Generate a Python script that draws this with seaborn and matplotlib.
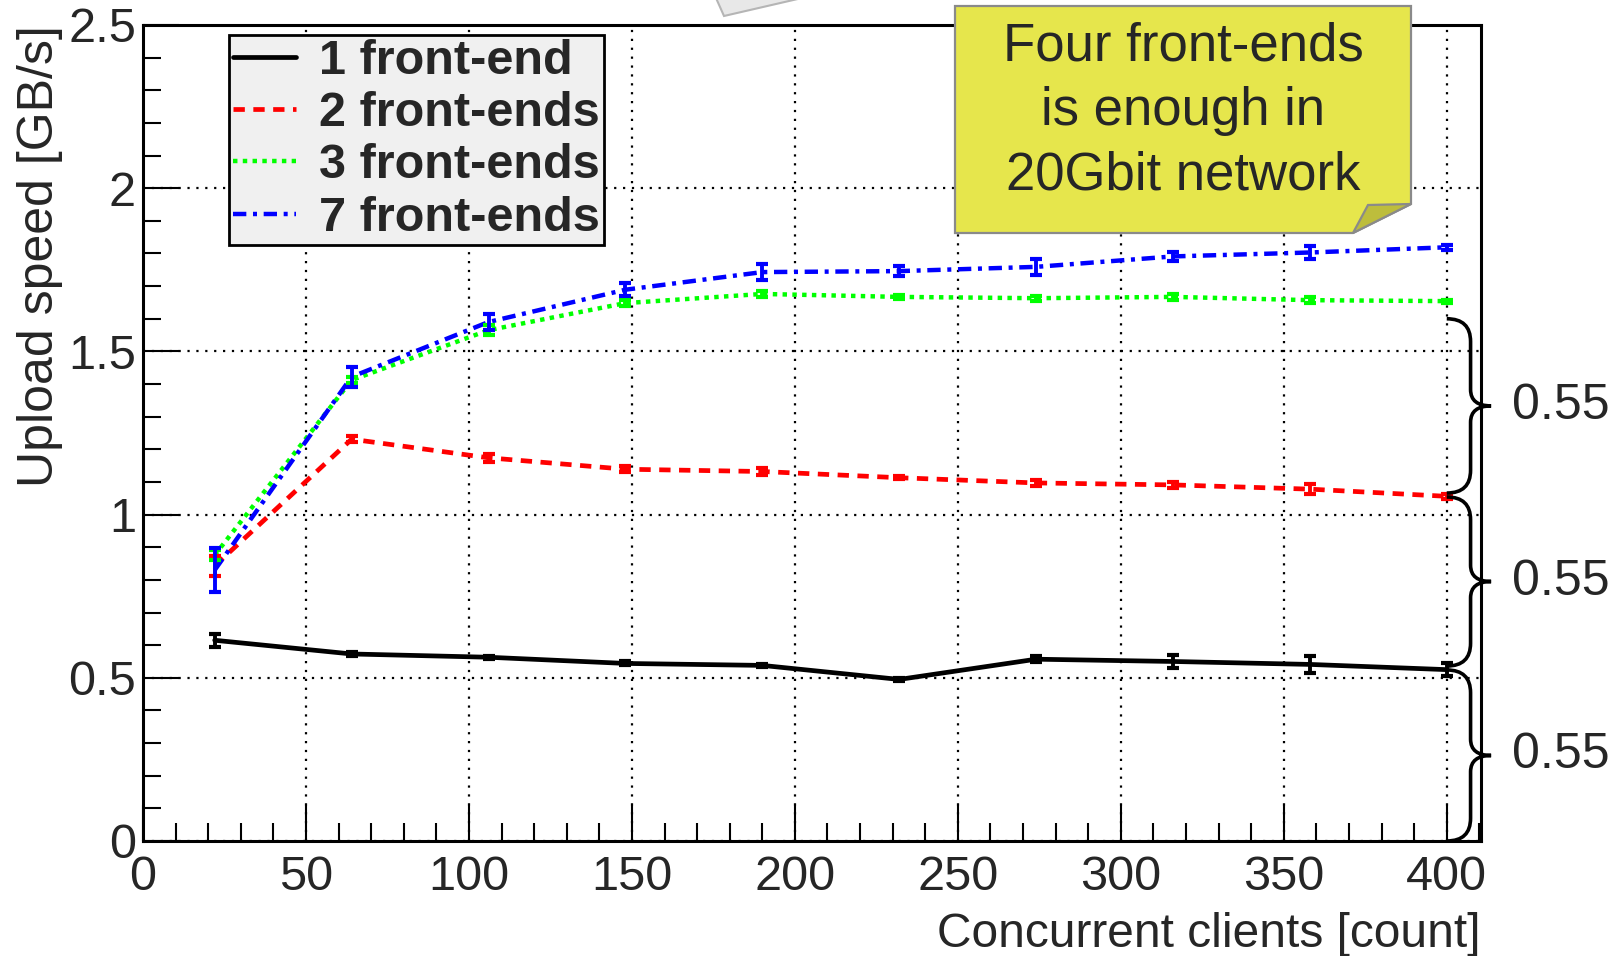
import numpy as np
import pandas as pd
import matplotlib
matplotlib.use("Agg")
import matplotlib.pyplot as plt
import seaborn as sns
from matplotlib.path import Path
from matplotlib.patches import PathPatch, Polygon
from matplotlib.lines import Line2D
from matplotlib.ticker import MultipleLocator, FuncFormatter

# ---- data -------------------------------------------------------------
clients = [22, 64, 106, 148, 190, 232, 274, 316, 358, 400]
series_names = ["1 front-end", "2 front-ends", "3 front-ends", "7 front-ends"]

speed_1fe = [0.615, 0.573, 0.563, 0.544, 0.538, 0.495, 0.557, 0.550, 0.541, 0.525]
err_1fe = [0.020, 0.005, 0.005, 0.006, 0.005, 0.005, 0.010, 0.020, 0.025, 0.020]
speed_2fe = [0.843, 1.231, 1.174, 1.139, 1.132, 1.113, 1.097, 1.091, 1.078, 1.056]
err_2fe = [0.030, 0.010, 0.012, 0.010, 0.012, 0.005, 0.008, 0.010, 0.015, 0.008]
speed_3fe = [0.876, 1.412, 1.565, 1.648, 1.676, 1.667, 1.663, 1.667, 1.657, 1.654]
err_3fe = [0.015, 0.010, 0.015, 0.010, 0.010, 0.005, 0.008, 0.010, 0.010, 0.005]
speed_7fe = [0.830, 1.422, 1.590, 1.689, 1.743, 1.746, 1.759, 1.791, 1.803, 1.819]
err_7fe = [0.067, 0.030, 0.025, 0.020, 0.025, 0.015, 0.025, 0.015, 0.020, 0.008]

brace_levels = [1.60, 1.06, 0.53, 0.0]
brace_labels = ["0.55", "0.55", "0.55"]
callout_text = "Four front-ends\nis enough in\n20Gbit network"

x_label = "Concurrent clients [count]"
y_label = "Upload speed [GB/s]"

# ---- style ------------------------------------------------------------
sns.set_style("ticks")
plt.rcParams["font.family"] = ["Liberation Sans", "DejaVu Sans"]

colors = ["#000000", "#ff0000", "#00ff00", "#0000ff"]
palette = dict(zip(series_names, colors))
dash_styles = {
    "1 front-end": "",
    "2 front-ends": (2.4, 1.8),
    "3 front-ends": (1.0, 1.2),
    "7 front-ends": (3.0, 1.5, 0.9, 1.5),
}
line_widths = [3.4, 3.4, 3.2, 3.2]

speeds = [speed_1fe, speed_2fe, speed_3fe, speed_7fe]
errors = [err_1fe, err_2fe, err_3fe, err_7fe]

df = pd.DataFrame({
    "clients": np.tile(clients, len(series_names)),
    "speed": np.concatenate(speeds),
    "series": np.repeat(series_names, len(clients)),
})

W, H = 1624, 956
fig = plt.figure(figsize=(W / 100, H / 100), dpi=100)
ax = fig.add_axes([143 / W, 1 - 841 / H, (1481 - 143) / W, (841 - 25) / H])

# grid underneath everything
ax.set_axisbelow(True)
ax.grid(True, which="major", color="black", linestyle=(0, (1, 3)), linewidth=1.6)

sns.lineplot(data=df, x="clients", y="speed", hue="series", style="series",
             palette=palette, dashes=dash_styles, linewidth=3.2, ax=ax,
             legend=False, sort=False, errorbar=None)
for ln, lw in zip(ax.get_lines(), line_widths):
    ln.set_dash_capstyle("butt")
    ln.set_linewidth(lw)

for s, e, c in zip(speeds, errors, colors):
    ax.errorbar(clients, s, yerr=e, fmt="none", ecolor=c, elinewidth=2.8,
                capsize=4.5, capthick=3.0, zorder=3)

ax.set_xlim(0, 410.5)
ax.set_ylim(0, 2.5)
ax.xaxis.set_major_locator(MultipleLocator(50))
ax.xaxis.set_minor_locator(MultipleLocator(10))
ax.yaxis.set_major_locator(MultipleLocator(0.5))
ax.yaxis.set_minor_locator(MultipleLocator(0.1))
fmt = FuncFormatter(lambda v, p: f"{v:g}")
ax.xaxis.set_major_formatter(fmt)
ax.yaxis.set_major_formatter(fmt)
ax.tick_params(which="major", direction="in", length=26, width=1.5,
               labelsize=35, color="black")
ax.tick_params(which="minor", direction="in", length=13, width=1.5, color="black")
ax.tick_params(axis="x", which="major", pad=10)
ax.tick_params(axis="y", which="major", pad=5)
for sp in ax.spines.values():
    sp.set_linewidth(2.2)
    sp.set_color("black")

ax.set_xlabel(x_label, loc="right", fontsize=34.5, labelpad=9)
ax.set_ylabel(y_label, loc="top", fontsize=36, labelpad=4)

# ---- legend -----------------------------------------------------------
handles = [Line2D([], [], color=c, linewidth=lw,
                  linestyle=("-" if i == 0 else (0, dash_styles[n])),
                  dash_capstyle="butt")
           for i, (n, c, lw) in enumerate(zip(series_names, colors, line_widths))]
leg = fig.legend(handles, series_names, loc="upper left",
                 bbox_to_anchor=(229 / W, 1 - 35 / H), bbox_transform=fig.transFigure,
                 prop={"weight": "bold", "size": 35}, frameon=True, fancybox=False,
                 handlelength=1.3, handletextpad=0.47, labelspacing=0.15,
                 borderpad=0.08, borderaxespad=0)
leg.get_frame().set_facecolor("#f0f0f0")
leg.get_frame().set_edgecolor("black")
leg.get_frame().set_linewidth(2.0)
leg.get_frame().set_alpha(1.0)


# ---- braces on the right ---------------------------------------------
def curly_brace(ax, y_top, y_bot, x0=400.0, xb=407.3, xt=413.6, r=0.07, r2=0.05):
    ym = 0.5 * (y_top + y_bot)
    verts = [
        (x0, y_top), (xb, y_top), (xb, y_top - r),
        (xb, ym + r2), (xb, ym), (xt, ym),
        (xb, ym), (xb, ym - r2),
        (xb, y_bot + r), (xb, y_bot), (x0, y_bot),
    ]
    codes = [Path.MOVETO, Path.CURVE3, Path.CURVE3,
             Path.LINETO, Path.CURVE3, Path.CURVE3,
             Path.CURVE3, Path.CURVE3,
             Path.LINETO, Path.CURVE3, Path.CURVE3]
    patch = PathPatch(Path(verts, codes), facecolor="none", edgecolor="black",
                      linewidth=2.6, clip_on=False, zorder=5)
    ax.add_patch(patch)
    return ym


for i, lab in enumerate(brace_labels):
    top = brace_levels[i] - (0.0 if i == 0 else 0.006)
    bot = brace_levels[i + 1] + (0.0 if i == len(brace_labels) - 1 else 0.006)
    ym = curly_brace(ax, top, bot)
    ax.text(420.0, ym, lab, fontsize=36, ha="left", va="center", clip_on=False)


# ---- callout note ------------------------------------------------------
def px(x, y):
    return (x / W, 1 - y / H)


note = Polygon([px(955, 6), px(1411, 6), px(1411, 204), px(1353, 233), px(955, 233)],
               closed=True, transform=fig.transFigure, facecolor="#e6e64c",
               edgecolor="#8a8a8a", linewidth=1.6, zorder=10)
fig.add_artist(note)
fold = Polygon([px(1353, 233), px(1368, 205), px(1411, 204)], closed=True,
               transform=fig.transFigure, facecolor="#bdbd3c",
               edgecolor="#8a8a8a", linewidth=1.6, zorder=11)
fig.add_artist(fold)
fig.text(1183 / W, 1 - 111 / H, callout_text, fontsize=38, ha="center", va="center",
         linespacing=1.37, zorder=12)

# partially visible sticker at the top edge
sticker = Polygon([px(716, -2), px(724, 16), px(802, -2)], closed=True,
                  transform=fig.transFigure, facecolor="#e8e8e8",
                  edgecolor="#b5b5b5", linewidth=1.5, zorder=10)
fig.add_artist(sticker)

fig.savefig("out.png", dpi=100, facecolor="white")
